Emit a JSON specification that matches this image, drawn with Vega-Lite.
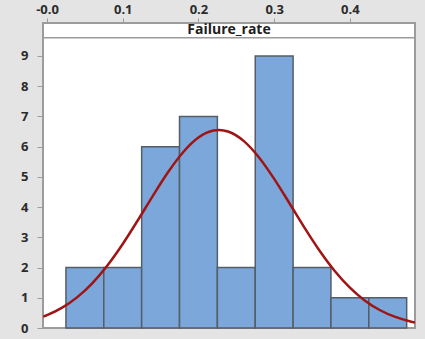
{
  "$schema": "https://vega.github.io/schema/vega-lite/v6.json",
  "autosize": {"type": "none"},
  "padding": {"left": 43, "top": 23, "right": 10, "bottom": 11},
  "width": 372,
  "height": 305,
  "background": "#e4e4e4",
  "config": {
    "view": {"fill": "white", "stroke": "#9c9c9c", "strokeWidth": 2},
    "axis": {
      "labelFont": "Open Sans",
      "labelFontWeight": "bold",
      "labelFontSize": 13,
      "labelColor": "#2b2b2b",
      "tickColor": "#9c9c9c",
      "domain": false,
      "grid": false,
      "title": null,
      "labelOverlap": false
    }
  },
  "encoding": {
    "x": {
      "field": "x", "type": "quantitative",
      "scale": {"domain": [-0.0053, 0.486], "nice": false, "zero": false},
      "axis": {
        "orient": "top", "values": [0, 0.1, 0.2, 0.3, 0.4],
        "labelExpr": "datum.value == 0 ? '-0.0' : format(datum.value, '.1f')",
        "tickSize": 5, "labelPadding": 2
      }
    },
    "y": {
      "field": "v", "type": "quantitative",
      "scale": {"domain": [0, 10.09], "nice": false},
      "axis": {"values": [0, 1, 2, 3, 4, 5, 6, 7, 8, 9], "tickCount": 10, "tickSize": 6, "labelPadding": 9}
    }
  },
  "layer": [
    {
      "data": {"values": [
        {"x": 0.025, "x2": 0.075, "v": 2},
        {"x": 0.075, "x2": 0.125, "v": 2},
        {"x": 0.125, "x2": 0.175, "v": 6},
        {"x": 0.175, "x2": 0.225, "v": 7},
        {"x": 0.225, "x2": 0.275, "v": 2},
        {"x": 0.275, "x2": 0.325, "v": 9},
        {"x": 0.325, "x2": 0.375, "v": 2},
        {"x": 0.375, "x2": 0.425, "v": 1},
        {"x": 0.425, "x2": 0.475, "v": 1}
      ]},
      "mark": {"type": "bar", "fill": "#7ba7db", "stroke": "#555e66", "strokeWidth": 1.5},
      "encoding": {
        "x2": {"field": "x2"},
        "y2": {"datum": 0}
      }
    },
    {
      "data": {"values": [
        {"x": -0.005, "v": 0.375},
        {"x": 0.0, "v": 0.424},
        {"x": 0.02, "v": 0.672},
        {"x": 0.04, "v": 1.022},
        {"x": 0.06, "v": 1.488},
        {"x": 0.08, "v": 2.078},
        {"x": 0.10, "v": 2.78},
        {"x": 0.12, "v": 3.565},
        {"x": 0.14, "v": 4.381},
        {"x": 0.16, "v": 5.16},
        {"x": 0.18, "v": 5.824},
        {"x": 0.20, "v": 6.301},
        {"x": 0.22, "v": 6.533},
        {"x": 0.227, "v": 6.55},
        {"x": 0.24, "v": 6.491},
        {"x": 0.26, "v": 6.182},
        {"x": 0.28, "v": 5.642},
        {"x": 0.30, "v": 4.935},
        {"x": 0.32, "v": 4.136},
        {"x": 0.34, "v": 3.323},
        {"x": 0.36, "v": 2.558},
        {"x": 0.38, "v": 1.888},
        {"x": 0.40, "v": 1.336},
        {"x": 0.42, "v": 0.905},
        {"x": 0.44, "v": 0.588},
        {"x": 0.46, "v": 0.366},
        {"x": 0.48, "v": 0.218},
        {"x": 0.486, "v": 0.185}
      ]},
      "mark": {"type": "line", "color": "#a01414", "strokeWidth": 2.5, "interpolate": "monotone", "clip": true},
      "encoding": {}
    },
    {
      "data": {"values": [{"v": 9.6}]},
      "mark": {"type": "rule", "color": "#9c9c9c", "strokeWidth": 1.5},
      "encoding": {"x": {"value": 0}, "x2": {"value": {"expr": "width"}}}
    },
    {
      "data": {"values": [{"label": "Failure_rate", "v": 9.85}]},
      "mark": {"type": "text", "font": "Open Sans", "fontWeight": "bold", "fontSize": 14, "color": "#1e1e1e", "baseline": "middle"},
      "encoding": {
        "x": {"value": {"expr": "width / 2"}},
        "text": {"field": "label"}
      }
    }
  ]
}
